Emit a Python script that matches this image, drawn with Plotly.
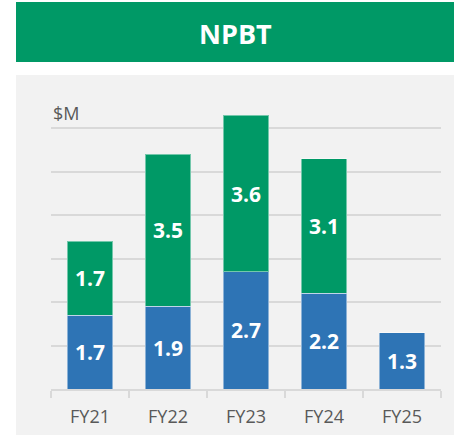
import plotly.graph_objects as go

categories = ["FY21", "FY22", "FY23", "FY24", "FY25"]
base_values = [1.7, 1.9, 2.7, 2.2, 1.3]
top_values = [1.7, 3.5, 3.6, 3.1, None]
y_ticks = [0, 1, 2, 3, 4, 5, 6, 7]
title_text = "NPBT"
unit_text = "$M"

GREEN = "#009966"
BLUE = "#2E74B5"
GRID = "#D9D9D9"
PANEL = "#F2F2F2"
TXT = "#595959"
FONT = "Open Sans"

W, H = 454, 435
ML, MR, MT, MB = 51, 13, 85, 46
pw = W - ML - MR
ph = H - MT - MB


def px_x(v):
    return (v - ML) / pw


def px_y(v):
    return (H - MB - v) / ph


fig = go.Figure()
fig.add_trace(go.Bar(
    x=categories, y=base_values, marker=dict(color=BLUE, line=dict(color="rgba(255,255,255,0.45)", width=1)),
    text=[f"{v:.1f}" for v in base_values], textposition="inside", insidetextanchor="middle",
    textfont=dict(family=FONT, size=21, color="white", weight="bold"), hoverinfo="skip",
))
fig.add_trace(go.Bar(
    x=categories, y=top_values, marker=dict(color=GREEN, line=dict(color="rgba(255,255,255,0.45)", width=1)),
    text=[f"{v:.1f}" if v is not None else "" for v in top_values], textposition="inside", insidetextanchor="middle",
    textfont=dict(family=FONT, size=21, color="white", weight="bold"), hoverinfo="skip",
))

fig.update_layout(
    width=W, height=H, barmode="stack", bargap=0.42, showlegend=False,
    margin=dict(l=ML, r=MR, t=MT, b=MB, autoexpand=False),
    paper_bgcolor="white", plot_bgcolor="rgba(0,0,0,0)",
    uniformtext=dict(minsize=8, mode="show"),
    font=dict(family=FONT, color=TXT),
    xaxis=dict(
        showgrid=False, showline=True, linecolor=GRID, linewidth=1.5,
        ticks="outside", tickson="boundaries", ticklen=7, tickcolor=GRID, tickwidth=1.5,
        tickfont=dict(family=FONT, size=18, color=TXT), ticklabelstandoff=11, fixedrange=True,
    ),
    yaxis=dict(
        range=[0, 7], tickvals=y_ticks, showticklabels=False, showgrid=True,
        gridcolor=GRID, gridwidth=1.5, zeroline=False, showline=False, fixedrange=True,
    ),
    shapes=[
        dict(type="rect", xref="paper", yref="paper", x0=px_x(16), x1=px_x(460), y0=px_y(62), y1=px_y(2),
             fillcolor=GREEN, line=dict(width=0), layer="below"),
        dict(type="rect", xref="paper", yref="paper", x0=px_x(16), x1=px_x(460), y0=px_y(440), y1=px_y(75),
             fillcolor=PANEL, line=dict(width=0), layer="below"),
    ],
    annotations=[
        dict(text=f"<b>{title_text}</b>", xref="paper", yref="paper", x=px_x(235), y=px_y(33),
             xanchor="center", yanchor="middle", showarrow=False,
             font=dict(family=FONT, size=27, color="white")),
        dict(text=unit_text, xref="paper", yref="paper", x=0, y=px_y(113),
             xanchor="left", yanchor="middle", showarrow=False,
             font=dict(family=FONT, size=18, color=TXT)),
    ],
)

fig.write_html(
    "out.html",
    config={"displayModeBar": False},
    post_script="document.body.style.margin='0';document.body.style.overflow='hidden';",
)
